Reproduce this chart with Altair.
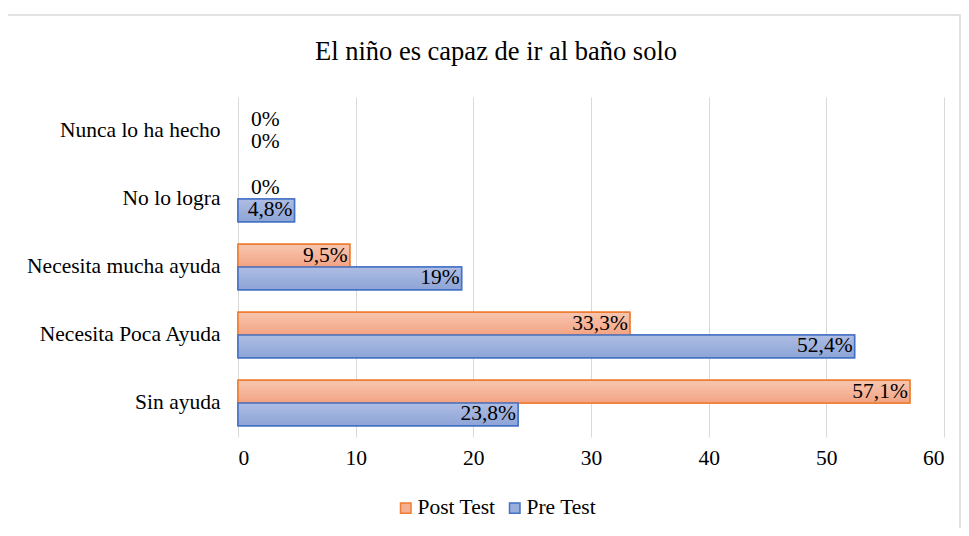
import altair as alt
import pandas as pd

categories = ["Nunca lo ha hecho", "No lo logra", "Necesita mucha ayuda",
              "Necesita Poca Ayuda", "Sin ayuda"]
series = ["Post Test", "Pre Test"]
post_values = [0, 0, 9.5, 33.3, 57.1]
pre_values = [0, 4.8, 19, 52.4, 23.8]
x_ticks = [0, 10, 20, 30, 40, 50, 60]

FONT = "Liberation Serif"
FS = 21.5


def fmt(v):
    return f"{v:g}".replace(".", ",") + "%"


rows = []
for s, vals in zip(series, [post_values, pre_values]):
    for c, v in zip(categories, vals):
        rows.append({"cat": c, "serie": s, "value": v, "label": fmt(v)})
df = pd.DataFrame(rows)

grad_post = {"gradient": "linear", "x1": 0, "y1": 0, "x2": 0, "y2": 1,
             "stops": [{"offset": 0, "color": "#f8c6b0"},
                       {"offset": 1, "color": "#f3a383"}]}
grad_pre = {"gradient": "linear", "x1": 0, "y1": 0, "x2": 0, "y2": 1,
            "stops": [{"offset": 0, "color": "#aebde3"},
                      {"offset": 1, "color": "#8da4d7"}]}

y = alt.Y("cat:N", sort=categories, title=None,
          scale=alt.Scale(paddingInner=0.33, paddingOuter=0.165),
          axis=alt.Axis(domain=False, ticks=False, labelPadding=18,
                        labelFontSize=FS, labelFont=FONT, labelColor="black",
                        labelLimit=400))
yoff = alt.YOffset("serie:N", sort=series)
x = alt.X("value:Q", scale=alt.Scale(domain=[0, 60], nice=False), title=None,
          axis=alt.Axis(values=x_ticks, grid=True, gridColor="#d9d9d9",
                        domain=False, ticks=False, labelPadding=10,
                        labelFontSize=FS, labelFont=FONT, labelColor="black"))

frame = alt.Chart(alt.Data(values=[{}])).mark_rect(
    filled=False, stroke="#d9d9d9", strokeWidth=1.5
).encode(x=alt.value(-232), x2=alt.value(722), y=alt.value(-82), y2=alt.value(436))

base = alt.Chart(df)
is_post = "datum.serie == 'Post Test'"

leg = alt.Legend(title=None, orient="none", legendX=157, legendY=400,
                 direction="horizontal", symbolType="square",
                 symbolSize=110, symbolStrokeWidth=1.5,
                 labelFont=FONT, labelFontSize=FS, labelColor="black",
                 columnPadding=8, labelOffset=1)

legend_bars = base.transform_filter("datum.value > 0").mark_bar(strokeWidth=1.5).encode(
    x=x, y=y, yOffset=yoff,
    fill=alt.Fill("serie:N", scale=alt.Scale(domain=series, range=["#f5b093", "#9aafdc"]),
                  legend=leg),
    stroke=alt.Stroke("serie:N", scale=alt.Scale(domain=series, range=["#ed7d31", "#4472c4"]),
                      legend=leg),
)

grad_bars = base.transform_filter("datum.value > 0").mark_bar(strokeWidth=1.5).encode(
    x=x, y=y, yOffset=yoff,
    fill=alt.condition(is_post, alt.value(grad_post), alt.value(grad_pre)),
    stroke=alt.condition(is_post, alt.value("#ed7d31"), alt.value("#4472c4")),
)

text_nz = base.transform_filter("datum.value > 0").mark_text(
    align="right", baseline="middle", dx=-2, font=FONT, fontSize=FS, color="black"
).encode(x=x, y=y, yOffset=yoff, text="label:N")

text_z = base.transform_filter("datum.value == 0").mark_text(
    align="left", baseline="middle", dx=13, font=FONT, fontSize=FS, color="black"
).encode(x=x, y=y, yOffset=yoff, text="label:N")

chart = alt.layer(frame, legend_bars, grad_bars, text_nz, text_z).properties(
    width=706, height=340,
    padding={"left": 230, "top": 89, "right": 17, "bottom": 91},
    autosize="none",
    title=alt.TitleParams("El niño es capaz de ir al baño solo", font=FONT, fontSize=26.5,
                          fontWeight="normal", color="black", dx=-95, offset=-72,
                          anchor="middle", frame="group", baseline="alphabetic"),
).configure_view(stroke=None)

chart.save("out.html", embed_options={"renderer": "svg", "actions": False})
